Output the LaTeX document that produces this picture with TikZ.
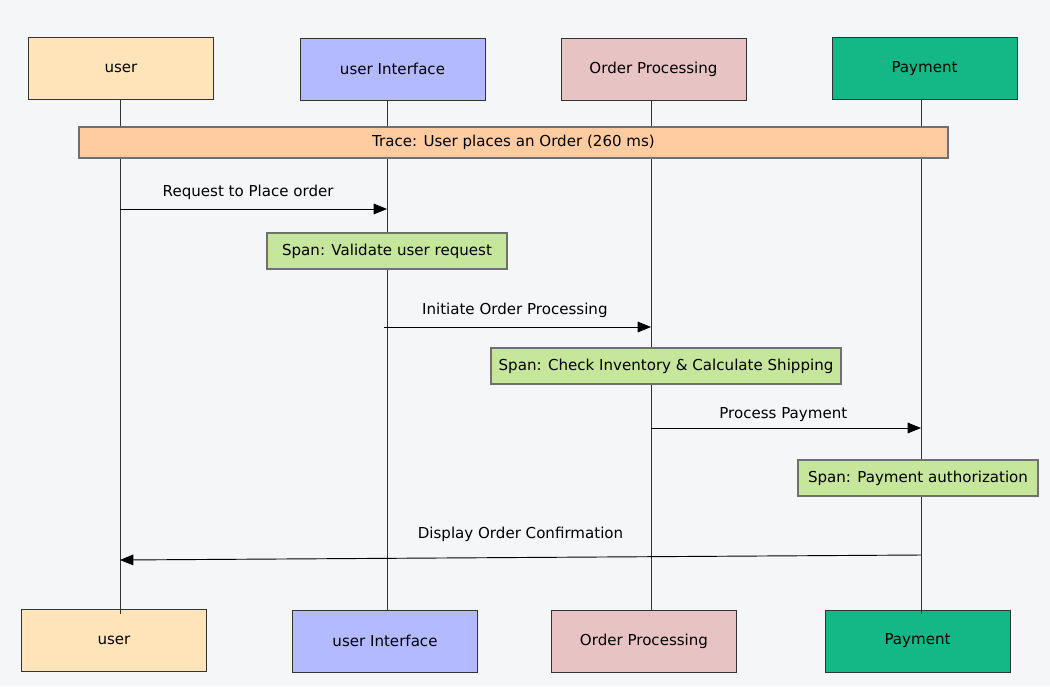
\documentclass[tikz,border=0pt]{standalone}
\usepackage{fontspec}
\setmainfont{DejaVu Sans}
\usetikzlibrary{arrows.meta}
\definecolor{bgcol}{HTML}{F5F6F8}
\definecolor{usercol}{HTML}{FFE4BA}
\definecolor{uicol}{HTML}{B3BAFF}
\definecolor{opcol}{HTML}{E8C3C3}
\definecolor{paycol}{HTML}{13B886}
\definecolor{tracecol}{HTML}{FFCBA1}
\definecolor{spancol}{HTML}{C6E69B}
\definecolor{linecol}{HTML}{333333}
\begin{document}
\begin{tikzpicture}[x=0.75pt,y=-0.75pt,font=\fontsize{11.3}{13}\selectfont,
  actor/.style={draw=linecol,line width=0.75pt,minimum width=138.75pt,minimum height=46.5pt},
  trace/.style={draw=linecol!70,line width=0.8pt,fill=tracecol,minimum width=651.75pt,minimum height=23.25pt},
  spanbox/.style={draw=linecol!70,line width=0.8pt,fill=spancol,minimum height=27pt,inner xsep=0pt},
  life/.style={draw=linecol,line width=0.6pt},
  msg/.style={draw=black,line width=0.7pt,-{Triangle[length=10pt,width=8pt]}}]
\fill[bgcol] (0,0) rectangle (1050,686);
\useasboundingbox (0,0) rectangle (1050,686);
% participants, top and bottom
\node[actor,fill=usercol] (user) at (121,68) {user};
\node[actor,fill=uicol] (ui) at (392.5,69) {user Interface};
\node[actor,fill=opcol] (op) at (653.5,69) {Order Processing};
\node[actor,fill=paycol] (pay) at (924.5,68.5) {Payment};
\node[actor,fill=usercol] (userB) at (114,640.5) {user};
\node[actor,fill=uicol] (uiB) at (385,641) {user Interface};
\node[actor,fill=opcol] (opB) at (644,641) {Order Processing};
\node[actor,fill=paycol] (payB) at (917.5,641) {Payment};
% lifelines
\coordinate (userE) at (120,614);
\coordinate (uiE) at (387,611);
\coordinate (opE) at (651,611);
\coordinate (payE) at (921,614);
\draw[life] (120,99) -- (userE);
\draw[life] (387,100) -- (uiE);
\draw[life] (651,100) -- (opE);
\draw[life] (921,100) -- (payE);
% trace and spans
\node[trace] (tr) at (513.5,142.5) {Trace: User places an Order (260 ms)};
\node[spanbox,minimum width=180pt] (sp1) at (387,251) {Span: Validate user request};
\node[spanbox,minimum width=262.5pt] (sp2) at (666,366) {Span: Check Inventory \& Calculate Shipping};
\node[spanbox,minimum width=180pt] (sp3) at (918,478) {Span: Payment authorization};
% messages
\coordinate (m1a) at (120,209); \coordinate (m1b) at (387,209);
\coordinate (m2a) at (384,327); \coordinate (m2b) at (651,327);
\coordinate (m3a) at (651,428); \coordinate (m3b) at (921,428);
\coordinate (m4a) at (921,555); \coordinate (m4b) at (120,560);
\draw[msg] (m1a) -- node[above=3pt,pos=0.48] (l1) {Request to Place order} (m1b);
\draw[msg] (m2a) -- node[above=3pt,pos=0.49] (l2) {Initiate Order Processing} (m2b);
\draw[msg] (m3a) -- node[above=1pt,pos=0.49] (l3) {Process Payment} (m3b);
\draw[msg] (m4a) -- node[above=8pt,pos=0.5] (l4) {Display Order Confirmation} (m4b);
\end{tikzpicture}
\end{document}
